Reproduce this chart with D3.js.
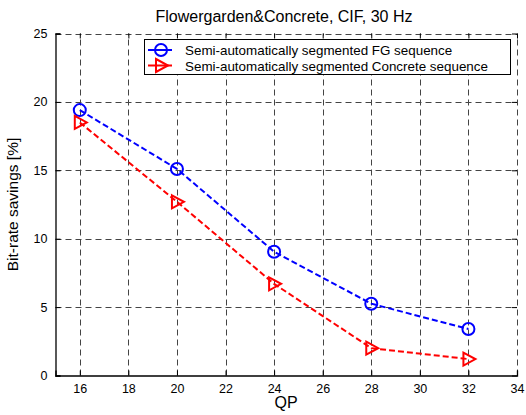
<!DOCTYPE html>
<html><head><meta charset="utf-8">
<script src="https://cdn.jsdelivr.net/npm/d3@7"></script>
<style>body{margin:0;background:#fff}svg{display:block}text{font-family:"Liberation Sans",Arial,sans-serif}</style>
</head><body><div id="chart"></div>
<script>
const qp = [16, 20, 24, 28, 32];
const fgSavings = [19.4, 15.1, 9.05, 5.25, 3.4];
const concreteSavings = [18.5, 12.7, 6.7, 2.0, 1.2];
const xTicks = [16, 18, 20, 22, 24, 26, 28, 30, 32, 34];
const yTicks = [0, 5, 10, 15, 20, 25];
const seriesNames = ["Semi-automatically segmented FG sequence", "Semi-automatically segmented Concrete sequence"];
const titleText = "Flowergarden&Concrete, CIF, 30 Hz";

const W = 526, H = 415;
const L = 55.5, R = 517, T = 33.5, B = 375.5;
const svg = d3.select("#chart").append("svg").attr("width", W).attr("height", H);
const x = d3.scaleLinear().domain([15, 34]).range([L, R]);
const y = d3.scaleLinear().domain([0, 25]).range([B, T]);

// grid
const grid = svg.append("g").attr("stroke", "#444").attr("stroke-width", 1).attr("stroke-dasharray", "6,4");
xTicks.forEach(t => grid.append("line").attr("x1", Math.round(x(t)) + 0.5).attr("x2", Math.round(x(t)) + 0.5).attr("y1", B).attr("y2", T));
yTicks.filter(t => t > 0).forEach(t => grid.append("line").attr("x1", L).attr("x2", R).attr("y1", Math.round(y(t)) + 0.5).attr("y2", Math.round(y(t)) + 0.5));

// axes
const xAxis = svg.append("g").attr("transform", `translate(0,${B})`).call(d3.axisBottom(x).tickValues(xTicks).tickSize(-5).tickPadding(9));
const yAxis = svg.append("g").attr("transform", `translate(${L},0)`).call(d3.axisLeft(y).tickValues(yTicks).tickSize(-5).tickPadding(8));
const xTop = svg.append("g").attr("transform", `translate(0,${T})`).call(d3.axisTop(x).tickValues(xTicks).tickSize(-5).tickFormat(""));
const yRight = svg.append("g").attr("transform", `translate(${R},0)`).call(d3.axisRight(y).tickValues(yTicks).tickSize(-5).tickFormat(""));
[xTop, yRight].forEach(g => g.select(".domain").remove());
[xAxis, yAxis].forEach(g => {
  g.select(".domain").attr("stroke", "#000").attr("stroke-width", 1.3);
  g.selectAll("text").attr("font-size", 12.5).attr("fill", "#000");
});
svg.selectAll(".tick line").attr("stroke", "#000");

// title & labels
svg.append("text").attr("x", 284).attr("y", 22).attr("text-anchor", "middle").attr("font-size", 16).text(titleText);
svg.append("text").attr("x", 286).attr("y", 408).attr("text-anchor", "middle").attr("font-size", 16).text("QP");
svg.append("text").attr("transform", `translate(18,${(T + B) / 2}) rotate(-90)`).attr("text-anchor", "middle").attr("font-size", 15.5).text("Bit-rate savings [%]");

// lines
const line = d3.line().x(d => x(d[0])).y(d => y(d[1]));
const series = [
  {vals: fgSavings, color: "#0000ff", marker: "circle"},
  {vals: concreteSavings, color: "#ff0000", marker: "tri"}
];
function drawMarker(g, type, cx, cy, color) {
  if (type === "circle") {
    g.append("circle").attr("cx", cx).attr("cy", cy).attr("r", 6).attr("fill", "none").attr("stroke", color).attr("stroke-width", 2);
  } else {
    g.append("path").attr("d", `M${cx - 5},${cy - 6.5}L${cx + 7},${cy}L${cx - 5},${cy + 6.5}Z`).attr("fill", "none").attr("stroke", color).attr("stroke-width", 2);
  }
}
series.forEach(s => {
  const pts = qp.map((q, i) => [q, s.vals[i]]);
  svg.append("path").attr("d", line(pts)).attr("fill", "none").attr("stroke", s.color).attr("stroke-width", 2).attr("stroke-dasharray", "6,3");
  const g = svg.append("g");
  pts.forEach(p => drawMarker(g, s.marker, x(p[0]), y(p[1]), s.color));
});

// legend
const lg = svg.append("g");
lg.append("rect").attr("x", 144.5).attr("y", 39.5).attr("width", 366).attr("height", 35).attr("fill", "#fff").attr("stroke", "#000").attr("stroke-width", 1);
series.forEach((s, i) => {
  const ly = 50 + i * 15.5;
  lg.append("line").attr("x1", 148).attr("x2", 172).attr("y1", ly).attr("y2", ly).attr("stroke", s.color).attr("stroke-width", 2);
  drawMarker(lg, s.marker, 161, ly, s.color);
  lg.append("text").attr("x", 185).attr("y", ly + 5).attr("font-size", 13.4).text(seriesNames[i]);
});
</script></body></html>
